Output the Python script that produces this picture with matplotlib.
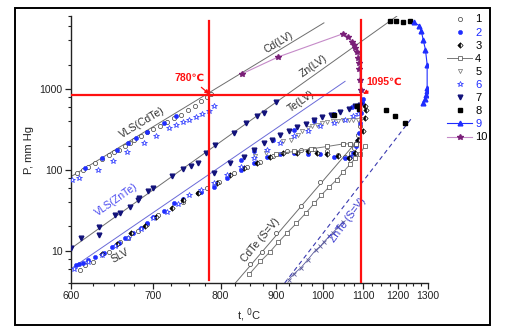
import numpy as np
import matplotlib
matplotlib.use("Agg")
import matplotlib.pyplot as plt
from matplotlib.ticker import FixedLocator, LogLocator, NullFormatter, FixedFormatter
from matplotlib.patches import Rectangle

plt.rcParams['font.family'] = ['Liberation Sans', 'DejaVu Sans']

# ---------------- data (t in degC, P in mm Hg) ----------------
# reference lines
vls_cdte_line_t = [600, 1002]
vls_cdte_line_p = [82.6, 6580]
vls_znte_line_t = [600, 1197]
vls_znte_line_p = [10.7, 7960]
te_lv_line_t = [600, 1053]
te_lv_line_p = [6.0, 1245]
cdte_sv_line_t = [825, 1083]
cdte_sv_line_p = [4.0, 225]
znte_sv_line_t = [917, 1247]
znte_sv_line_p = [4.0, 450]

# series 1 (open circles)
s1_t = [607, 613, 619, 627, 635, 643, 649, 655, 663, 669, 675, 683, 691, 699, 709, 719, 729, 739, 749, 759, 769, 778, 785,
        610, 615, 625, 643, 657, 667, 679, 691, 706, 741, 764, 779, 798, 822, 846, 870, 894, 922, 951, 980, 1010, 1036,
        1053, 1068, 1077, 1083, 1087, 1092, 1049, 1066, 1080,
        851, 873, 899, 951, 994]
s1_p = [91, 100, 110, 121, 136, 155, 168, 177, 195, 215, 236, 260, 291, 320, 352, 387, 441, 480, 543, 625, 703, 795, 875,
        5.8, 6.6, 7.3, 9.7, 12.9, 14.6, 17.7, 21.4, 27.7, 40.5, 51.4, 59.3, 71.7, 91, 110, 127, 149, 169, 177, 180, 169, 153,
        146, 161, 186, 225, 272, 345, 210, 212, 208,
        6.8, 9.8, 16.4, 35.8, 70]

# series 2 (filled blue circles)
s2_t = [615, 635, 653, 667, 677, 691, 714, 732,
        605, 609, 613, 619, 627, 637, 647, 655, 663, 673, 683, 691, 699, 714, 729, 741, 769, 789, 810, 834, 858, 882,
        907, 936, 965, 994, 1027, 1053, 1066, 1074, 1080, 1085, 1089, 1092, 1094, 1097, 1100,
        834, 858, 894, 936, 980, 1027, 1070, 1096]
s2_p = [105, 140, 177, 218, 246, 295, 376, 458,
        6.6, 6.8, 7.1, 7.7, 8.4, 9.5, 11.0, 12.6, 14.2, 16.4, 18.9, 21.8, 25.9, 31.3, 38.6, 43.3, 52.9, 62.1, 78.8, 100, 123, 146,
        158, 161, 158, 158, 146, 140, 146, 161, 195, 235, 285, 379, 504, 670, 751,
        133, 169, 235, 313, 397, 495, 598, 684]

# series 3 (half-filled diamonds)
s3_t = [635, 653, 671, 689, 704, 726, 741, 764, 794, 816, 840, 864, 888, 914, 943, 965, 987, 1010, 1036, 1062, 1079,
        1087, 1100, 1105, 1109, 1106]
s3_p = [9.1, 12.1, 16.4, 20.2, 26.4, 33.5, 42.5, 52.4, 68.4, 86.7, 105, 121, 144, 161, 164, 169, 164, 158, 149, 140, 161,
        235, 299, 437, 555, 610]

# series 4 (open squares with line); NaN separates the two branches
s4_t = [849, 870, 888, 904, 922, 941, 962, 980, 996, 1015, 1032, 1049, 1066, 1079, 1092, 1105, np.nan,
        900, 936, 972, 1010, 1049, 1066, 1080]
s4_p = [5.1, 7.4, 9.7, 12.7, 16.7, 21.8, 29.6, 38.6, 49, 62.1, 75.2, 95.3, 117.6, 140, 158, 200, np.nan,
        158, 169, 182, 195, 210, 210, 208]

# series 5 (open down triangles)
s5_t = [914, 929, 944, 954, 965, 976, 987, 998, 1010, 1023, 1036, 1049, 1062, 1074, 1085, 1094, 860, 880]
s5_p = [225, 235, 272, 299, 328, 345, 361, 379, 390, 397, 405, 413, 417, 417, 417, 425, 150, 160]

# series 6 (open blue stars)
s6_t = [601, 609, 630, 648, 666, 687, 704, 721, 731, 741, 751, 761, 771, 781, 789,
        603, 619, 635, 651, 667, 683, 699, 719, 734, 751, 769, 789, 810, 834, 858, 882, 907, 936, 965, 994, 1027, 1053, 1074, 1087]
s6_p = [75, 79, 100, 128, 165, 215, 260, 327, 360, 387, 420, 449, 495, 530, 610,
        6.0, 7.3, 8.8, 11.4, 14.6, 18.4, 25.2, 30.4, 37.9, 49, 56.5, 69.7, 86.7, 110, 140, 177, 218, 264, 307, 345, 379, 417, 458, 495]

# series 7 (filled navy down triangles)
s7_t = [600, 611, 631, 631, 651, 657, 669, 679, 681, 693, 700, 726, 741, 754, 764, 776, 791, 822, 843, 864, 876, 900,
        789, 816, 840, 858, 876, 891, 907, 925, 943, 961, 980, 998, 1019, 1040, 1062, 1079, 1092]
s7_p = [10.7, 14.6, 15.6, 19.8, 27.7, 29, 35.1, 42.5, 45.4, 55.5, 60.4, 85.1, 102, 113, 123, 164, 204, 290, 379, 467, 504, 684,
        91, 121, 146, 177, 214, 236, 272, 299, 338, 372, 409, 446, 481, 519, 565, 610, 640]

# series 8 (filled black squares)
s8_t = [1177, 1195, 1217, 1239, 1165, 1191, 1222, 1027, 1083, 1088]
s8_p = [6900, 7030, 6700, 7030, 555, 458, 379, 481, 610, 560]

# series 9 (blue triangles with line)
s9_t = [1252, 1269, 1277, 1283, 1291, 1297, 1297, 1297, 1293, 1288, 1282]
s9_p = [6700, 6095, 5190, 4090, 3076, 2004, 1029, 935, 851, 751, 670]

# series 10 (purple stars with line)
s10_t = [837, 904, 1049, 1060, 1070, 1076, 1079, 1083, 1087, 1089, 1090, 1092, 1093]
s10_p = [1549, 2494, 4850, 4415, 3828, 3548, 3222, 2850, 2423, 2100, 1770, 1305, 981]

# ZnTe (S=V) crosses
sx_t = [925, 936, 951, 965, 983, 994, 1002, 1015, 1023, 1036, 1049]
sx_p = [4.4, 5.2, 6.2, 7.7, 10.2, 11.4, 12.9, 15.2, 16.7, 19.8, 22.9]

# red guide lines
t_780 = 781
t_1095 = 1094
p_level = 851

x_ticks = [600, 700, 800, 900, 1000, 1100, 1200, 1300]
legend_labels = ['1', '2', '3', '4', '5', '6', '7', '8', '9', '10']

# ---------------- figure ----------------
W, H = 506, 332
fig = plt.figure(figsize=(W / 100, H / 100), dpi=100)
ax = fig.add_axes([71 / W, 1 - 283 / H, (428 - 71) / W, (283 - 16) / H])

def fwd(t):
    t = np.asarray(t, dtype=float)
    return -1.0 / (t + 273.15)

def inv(u):
    u = np.asarray(u, dtype=float)
    with np.errstate(divide='ignore'):
        return -1.0 / u - 273.15

ax.set_xscale('function', functions=(fwd, inv))
ax.set_yscale('log')
ax.set_xlim(600, 1300)
ax.set_ylim(4, 8000)

gray = '#6e6e6e'
blue = '#1f2dff'
navy = '#12127a'
purple = '#7a1f78'

# reference lines
ax.plot(vls_cdte_line_t, vls_cdte_line_p, color=gray, lw=0.7, zorder=2)
ax.plot(vls_znte_line_t, vls_znte_line_p, color=gray, lw=0.7, zorder=2)
ax.plot(te_lv_line_t, te_lv_line_p, color='#6a6ad8', lw=0.7, zorder=2)
ax.plot(cdte_sv_line_t, cdte_sv_line_p, color=gray, lw=0.7, zorder=2)
ax.plot(znte_sv_line_t, znte_sv_line_p, color='#3a3ab0', lw=0.8, ls=(0, (4, 3)), zorder=2)
ax.plot(sx_t, sx_p, color='#5a5a9a', lw=0.6, marker='x', ms=2.2, mew=0.6, zorder=2)

ms = 3.0
h1, = ax.plot(s1_t, s1_p, ls='none', marker='o', ms=ms, mfc='white', mec='#3a3a3a', mew=0.5, zorder=3)
h2, = ax.plot(s2_t, s2_p, ls='none', marker='o', ms=ms, mfc=blue, mec=blue, mew=0.4, zorder=3)
h3, = ax.plot(s3_t, s3_p, ls='none', marker='D', ms=2.7, fillstyle='left', mfc='black', mfcalt='white',
              mec='black', mew=0.5, zorder=3)
h4, = ax.plot(s4_t, s4_p, color='#777777', lw=0.7, marker='s', ms=2.7, mfc='white', mec='#4a4a4a', mew=0.5, zorder=3)
h5, = ax.plot(s5_t, s5_p, ls='none', marker='v', ms=3.0, mfc='white', mec='#707070', mew=0.5, zorder=3)
h6, = ax.plot(s6_t, s6_p, ls='none', marker='*', ms=4.0, mfc='white', mec=blue, mew=0.5, zorder=3)
h7, = ax.plot(s7_t, s7_p, ls='none', marker='v', ms=3.4, mfc=navy, mec=navy, zorder=3)
h8, = ax.plot(s8_t, s8_p, ls='none', marker='s', ms=3.0, mfc='black', mec='black', zorder=3)
h9, = ax.plot(s9_t, s9_p, color=blue, lw=0.8, marker='^', ms=3.4, mfc=blue, mec=blue, zorder=3)
h10, = ax.plot(s10_t, s10_p, color='#c58ac8', lw=0.8, marker='*', ms=4.2, mfc=purple, mec=purple, zorder=3)

# red guide lines
red = '#ff1010'
ax.plot([t_780, t_780], [4.4, 6900], color=red, lw=1.6, zorder=5)
ax.plot([t_1095, t_1095], [4, 7100], color=red, lw=1.6, zorder=5)
ax.plot([600, t_1095], [p_level, p_level], color=red, lw=1.6, zorder=5)

ax.annotate('780℃', xy=(782, 867), xytext=(752, 1380), color=red, fontsize=7.5, fontweight='bold',
            ha='center', va='center', zorder=6,
            arrowprops=dict(arrowstyle='-|>', color=red, lw=0.9, mutation_scale=6, shrinkA=2, shrinkB=0))
ax.annotate('1095℃', xy=(1100, 867), xytext=(1158, 1222), color=red, fontsize=7.5, fontweight='bold',
            ha='center', va='center', zorder=6,
            arrowprops=dict(arrowstyle='-|>', color=red, lw=0.9, mutation_scale=6, shrinkA=2, shrinkB=0))

# line labels
lab_kw = dict(fontsize=7.5, ha='center', va='center', rotation_mode='anchor', zorder=4)
ax.text(685, 386, 'VLS(CdTe)', color='#303030', rotation=31, **lab_kw)
ax.text(904, 3720, 'Cd(LV)', color='#303030', rotation=31, **lab_kw)
ax.text(978, 1910, 'Zn(LV)', color='#303030', rotation=35, **lab_kw)
ax.text(951, 703, 'Te(LV)', color='#303030', rotation=35, **lab_kw)
ax.text(652, 42.5, 'VLS(ZnTe)', color='#4a4af0', rotation=35, **lab_kw)
ax.text(657, 8.8, 'SLV', color='#303030', rotation=30, **lab_kw)
ax.text(870, 13.6, 'CdTe (S=V)', color='#303030', rotation=50, **lab_kw)
ax.text(1061, 24, 'ZnTe (S=V)', color='#3a3ad0', rotation=53, **lab_kw)

# axes styling
for s in ['top', 'right']:
    ax.spines[s].set_visible(False)
for s in ['left', 'bottom']:
    ax.spines[s].set_linewidth(1.0)
    ax.spines[s].set_color('#222222')

ax.xaxis.set_major_locator(FixedLocator(x_ticks))
ax.xaxis.set_major_formatter(FixedFormatter([str(v) for v in x_ticks]))
ax.xaxis.set_minor_locator(FixedLocator(np.arange(600, 1301, 25)))
ax.xaxis.set_minor_formatter(NullFormatter())
ax.yaxis.set_major_locator(LogLocator(base=10, subs=(1.0,)))
ax.yaxis.set_minor_locator(LogLocator(base=10, subs=(2.0, 4.0, 6.0, 8.0)))
ax.yaxis.set_minor_formatter(NullFormatter())
ax.yaxis.set_major_formatter(matplotlib.ticker.FuncFormatter(lambda v, p: f'{v:g}'))
ax.tick_params(which='major', direction='out', length=4, width=0.9, labelsize=7.5, colors='#222222', pad=2)
ax.tick_params(which='minor', direction='out', length=2.2, width=0.8, colors='#222222')

ax.set_xlabel('t, $^0$C', fontsize=8, labelpad=4, color='#222222')
ax.set_ylabel('P, mm Hg', fontsize=8, labelpad=4, color='#222222')

# legend
leg = fig.legend([h1, h2, h3, h4, h5, h6, h7, h8, h9, h10], legend_labels,
                 loc='upper left', bbox_to_anchor=(443 / W, 1 - 10 / H), frameon=False,
                 fontsize=8, handlelength=2.2, handletextpad=0.3, labelspacing=0.28, borderaxespad=0)
colors = ['black', blue, 'black', 'black', 'black', blue, 'black', 'black', blue, 'black']
for txt, c in zip(leg.get_texts(), colors):
    txt.set_color(c)

# outer frame
fig.patches.append(Rectangle((15 / W, 1 - 325 / H), (490 - 15) / W, (325 - 8) / H,
                             transform=fig.transFigure, fill=False, edgecolor='black', lw=1.4))

fig.savefig('out.png', dpi=100)
